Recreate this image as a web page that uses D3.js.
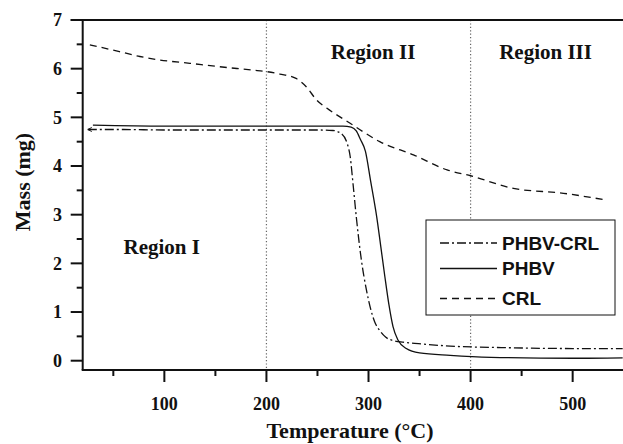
<!DOCTYPE html>
<html>
<head>
<meta charset="utf-8">
<script src="https://cdn.jsdelivr.net/npm/d3@7"></script>
<style>
  body { margin: 0; background: #fff; }
  svg { display: block; }
  .tick-label { font-family: "Liberation Serif", "Times New Roman", serif; font-weight: bold; font-size: 18px; fill: #111; }
  .title { font-family: "Liberation Serif", "Times New Roman", serif; font-weight: bold; font-size: 22px; fill: #111; }
  .region { font-family: "Liberation Serif", "Times New Roman", serif; font-weight: bold; font-size: 21px; fill: #111; }
  .legend-text { font-family: "Liberation Sans", Arial, sans-serif; font-weight: bold; font-size: 19px; fill: #111; }
</style>
</head>
<body>
<svg id="chart" width="623" height="444"></svg>
<script>
// TGA curves, mass (mg) vs temperature (C)

var phbvCrlTemp = [25, 60, 100, 150, 200, 250, 265, 273, 279, 282, 285, 288, 293, 298, 306, 311, 317, 325, 334, 349, 380, 430, 500, 549];
var phbvCrlMass = [4.75, 4.75, 4.74, 4.74, 4.74, 4.74, 4.73, 4.67, 4.47, 4.2, 3.6, 2.96, 2.07, 1.45, 0.8, 0.62, 0.48, 0.41, 0.38, 0.35, 0.3, 0.27, 0.25, 0.25];

var phbvTemp = [30, 100, 200, 250, 275, 283, 288, 292, 297, 302, 308, 312, 316, 320, 324, 329, 337, 350, 380, 420, 500, 549];
var phbvMass = [4.84, 4.82, 4.82, 4.82, 4.82, 4.8, 4.72, 4.55, 4.3, 3.7, 2.96, 2.35, 1.73, 1.15, 0.7, 0.42, 0.25, 0.16, 0.11, 0.07, 0.05, 0.06];

var crlTemp = [27, 56, 76, 95, 125, 154, 187, 200, 213, 229, 239, 249, 259, 272, 282, 295, 311, 344, 377, 400, 442, 491, 533];
var crlMass = [6.49, 6.35, 6.25, 6.18, 6.11, 6.04, 5.97, 5.94, 5.89, 5.8, 5.63, 5.36, 5.19, 5.01, 4.88, 4.7, 4.5, 4.23, 3.92, 3.8, 3.54, 3.44, 3.3];

var xTicks = [100, 200, 300, 400, 500];
var xMinor = [50, 150, 250, 350, 450];
var yTicks = [0, 1, 2, 3, 4, 5, 6, 7];
var yMinor = [0.5, 1.5, 2.5, 3.5, 4.5, 5.5, 6.5];
var regionLines = [200, 400];

var regions = [
  { name: 'Region I', t: 60, m: 2.2 },
  { name: 'Region II', t: 263, m: 6.2 },
  { name: 'Region III', t: 428, m: 6.2 }
];

var series = [
  { name: 'PHBV-CRL', temp: phbvCrlTemp, mass: phbvCrlMass, dash: '9,3,2,3' },
  { name: 'PHBV', temp: phbvTemp, mass: phbvMass, dash: null },
  { name: 'CRL', temp: crlTemp, mass: crlMass, dash: '7,5' }
];

var svg = d3.select('#chart');

var x = d3.scaleLinear().domain([20, 550]).range([82.7, 623.7]);
var y = d3.scaleLinear().domain([0, 7]).range([360.7, 20]);
var yBottom = 370;

// dotted region separators
svg.selectAll('.sep').data(regionLines).enter().append('line')
  .attr('class', 'sep')
  .attr('x1', function(d){ return x(d); })
  .attr('x2', function(d){ return x(d); })
  .attr('y1', y(7)).attr('y2', yBottom)
  .attr('stroke', '#666').attr('stroke-width', 1.2)
  .attr('stroke-dasharray', '1.2,2.2');

// curves
var line = d3.line()
  .x(function(d){ return x(d[0]); })
  .y(function(d){ return y(d[1]); })
  .curve(d3.curveMonotoneX);

series.forEach(function(s){
  var pts = d3.zip(s.temp, s.mass);
  svg.append('path')
    .attr('d', line(pts))
    .attr('fill', 'none')
    .attr('stroke', '#111')
    .attr('stroke-width', 1.3)
    .attr('stroke-dasharray', s.dash);
});

// little arrow head at the start of the PHBV-CRL trace
var a0 = [x(phbvCrlTemp[0]), y(phbvCrlMass[0])];
svg.append('path')
  .attr('d', 'M' + (a0[0] + 4) + ',' + (a0[1] - 2) + 'L' + a0[0] + ',' + a0[1] + 'L' + (a0[0] + 4) + ',' + (a0[1] + 2))
  .attr('fill', 'none').attr('stroke', '#111').attr('stroke-width', 1);

// axes frame
svg.append('line').attr('x1', x(20)).attr('x2', x(20)).attr('y1', y(7)).attr('y2', yBottom)
  .attr('stroke', '#111').attr('stroke-width', 2);
svg.append('line').attr('x1', x(20) - 1).attr('x2', 623).attr('y1', yBottom).attr('y2', yBottom)
  .attr('stroke', '#111').attr('stroke-width', 2);
svg.append('line').attr('x1', x(20) - 12).attr('x2', 623).attr('y1', y(7)).attr('y2', y(7))
  .attr('stroke', '#111').attr('stroke-width', 2);

// y ticks
svg.selectAll('.ytick').data(yTicks).enter().append('line')
  .attr('x1', x(20) - 12).attr('x2', x(20))
  .attr('y1', function(d){ return y(d); }).attr('y2', function(d){ return y(d); })
  .attr('stroke', '#111').attr('stroke-width', 2);
svg.selectAll('.yminor').data(yMinor).enter().append('line')
  .attr('x1', x(20) - 6).attr('x2', x(20))
  .attr('y1', function(d){ return y(d); }).attr('y2', function(d){ return y(d); })
  .attr('stroke', '#111').attr('stroke-width', 2);
svg.selectAll('.ylab').data(yTicks).enter().append('text')
  .attr('class', 'tick-label')
  .attr('x', 62).attr('y', function(d){ return y(d); })
  .attr('dy', '0.35em')
  .attr('text-anchor', 'end')
  .text(function(d){ return d; });

// x ticks
svg.selectAll('.xtick').data(xTicks).enter().append('line')
  .attr('x1', function(d){ return x(d); }).attr('x2', function(d){ return x(d); })
  .attr('y1', yBottom).attr('y2', yBottom + 12)
  .attr('stroke', '#111').attr('stroke-width', 2);
svg.selectAll('.xminor').data(xMinor).enter().append('line')
  .attr('x1', function(d){ return x(d); }).attr('x2', function(d){ return x(d); })
  .attr('y1', yBottom).attr('y2', yBottom + 6)
  .attr('stroke', '#111').attr('stroke-width', 2);
svg.selectAll('.xlab').data(xTicks).enter().append('text')
  .attr('class', 'tick-label')
  .attr('x', function(d){ return x(d); }).attr('y', 410)
  .attr('text-anchor', 'middle')
  .text(function(d){ return d; });

// axis titles
svg.append('text').attr('class', 'title')
  .attr('x', 350).attr('y', 438)
  .attr('text-anchor', 'middle')
  .text('Temperature (\u00B0C)');
svg.append('text').attr('class', 'title')
  .attr('transform', 'translate(30,182) rotate(-90)')
  .attr('text-anchor', 'middle')
  .text('Mass (mg)');

// region labels
svg.selectAll('.region').data(regions).enter().append('text')
  .attr('class', 'region')
  .attr('x', function(d){ return x(d.t); })
  .attr('y', function(d){ return y(d.m); })
  .text(function(d){ return d.name; });

// legend
var lg = svg.append('g').attr('transform', 'translate(426,220)');
lg.append('rect').attr('width', 189).attr('height', 95)
  .attr('fill', '#fff').attr('stroke', '#111').attr('stroke-width', 1);
var rowY = [23, 48.5, 78.5];
series.forEach(function(s, i){
  lg.append('line')
    .attr('x1', 14).attr('x2', 71)
    .attr('y1', rowY[i]).attr('y2', rowY[i])
    .attr('stroke', '#111').attr('stroke-width', 1.3)
    .attr('stroke-dasharray', s.dash);
  lg.append('text').attr('class', 'legend-text')
    .attr('x', 76).attr('y', rowY[i]).attr('dy', '0.36em')
    .text(s.name);
});
</script>
</body>
</html>
